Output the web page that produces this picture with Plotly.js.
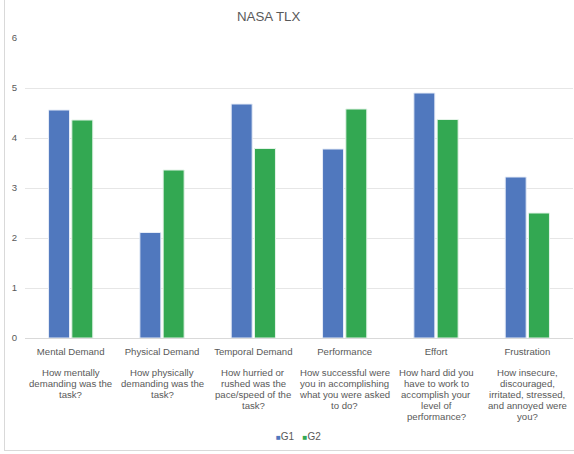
<!DOCTYPE html>
<html>
<head>
<meta charset="utf-8">
<script src="https://cdn.plot.ly/plotly-3.0.1.min.js"></script>
<style>
  html, body { margin: 0; padding: 0; background: #ffffff; overflow: hidden; }
  #frame { position: absolute; left: 4px; top: -2px; width: 600px; height: 453px;
           border: 1px solid #D9D9D9; box-sizing: border-box; }
  #chart { position: absolute; left: 0; top: 0; width: 574px; height: 454px; }
</style>
</head>
<body>
<div id="frame"></div>
<div id="chart"></div>
<script>
// NASA TLX subscales and their mean ratings per group
const categories = ["Mental Demand", "Physical Demand", "Temporal Demand", "Performance", "Effort", "Frustration"];
const questions = [
  ["How mentally", "demanding was the", "task?"],
  ["How physically", "demanding was the", "task?"],
  ["How hurried or", "rushed was the", "pace/speed of the", "task?"],
  ["How successful were", "you in accomplishing", "what you were asked", "to do?"],
  ["How hard did you", "have to work to", "accomplish your", "level of", "performance?"],
  ["How insecure,", "discouraged,", "irritated, stressed,", "and annoyed were", "you?"]
];
const g1 = [4.56, 2.11, 4.68, 3.78, 4.90, 3.22];
const g2 = [4.36, 3.36, 3.79, 4.58, 4.37, 2.50];
const seriesNames = ["G1", "G2"];
const yTicks = [0, 1, 2, 3, 4, 5, 6];

const BLUE = "#5078BE";
const GREEN = "#33A852";
const TEXT = "#595959";
const FONT = "Liberation Sans, Arial, sans-serif";

const traces = [
  { type: "bar", name: seriesNames[0], x: categories, y: g1,
    marker: { color: BLUE, line: { color: "#E6ECF7", width: 1 } } },
  { type: "bar", name: seriesNames[1], x: categories, y: g2,
    marker: { color: GREEN, line: { color: "#E3F3E7", width: 1 } } }
];

// Question text under each category, one annotation per line
const annotations = [];
questions.forEach((lines, i) => {
  lines.forEach((line, k) => {
    annotations.push({
      x: categories[i], xref: "x", y: 0, yref: "paper",
      yanchor: "middle", yshift: -(34 + k * 11.1),
      text: line, showarrow: false,
      font: { family: FONT, size: 9.6, color: TEXT }
    });
  });
});

// Compact legend below the plot
const swatch = c => '<span style="color:' + c + ';font-size:8px">■</span>';
annotations.push({
  x: 0.4995, xref: "paper", y: 0, yref: "paper", yanchor: "middle", yshift: -98,
  text: swatch(BLUE) + seriesNames[0] + '&nbsp;&nbsp; ' + swatch(GREEN) + seriesNames[1],
  showarrow: false, font: { family: FONT, size: 10, color: TEXT }
});

const layout = {
  width: 574, height: 454,
  margin: { l: 25, r: 1, t: 38, b: 116, pad: 0 },
  paper_bgcolor: "rgba(0,0,0,0)", plot_bgcolor: "rgba(0,0,0,0)",
  title: { text: "NASA TLX", x: 0.468, xanchor: "center", y: 0.965, yanchor: "middle",
           font: { family: FONT, size: 13.3, color: TEXT } },
  font: { family: FONT, color: TEXT },
  showlegend: false,
  barmode: "group", bargap: 0.49, bargroupgap: 0.1,
  xaxis: {
    type: "category", showgrid: false, zeroline: false,
    showline: true, linecolor: "#D9D9D9", linewidth: 1,
    ticks: "", ticklabelstandoff: 4,
    tickfont: { family: FONT, size: 9.6, color: TEXT }
  },
  yaxis: {
    range: [0, 6], tickvals: yTicks, ticktext: yTicks.map(String),
    showgrid: true, gridcolor: "#E6E6E6", gridwidth: 1,
    zeroline: false, showline: false, ticks: "", ticklabelstandoff: 7,
    tickfont: { family: FONT, size: 9.6, color: TEXT }
  },
  annotations: annotations
};

Plotly.newPlot("chart", traces, layout, { displayModeBar: false, staticPlot: true });
</script>
</body>
</html>
